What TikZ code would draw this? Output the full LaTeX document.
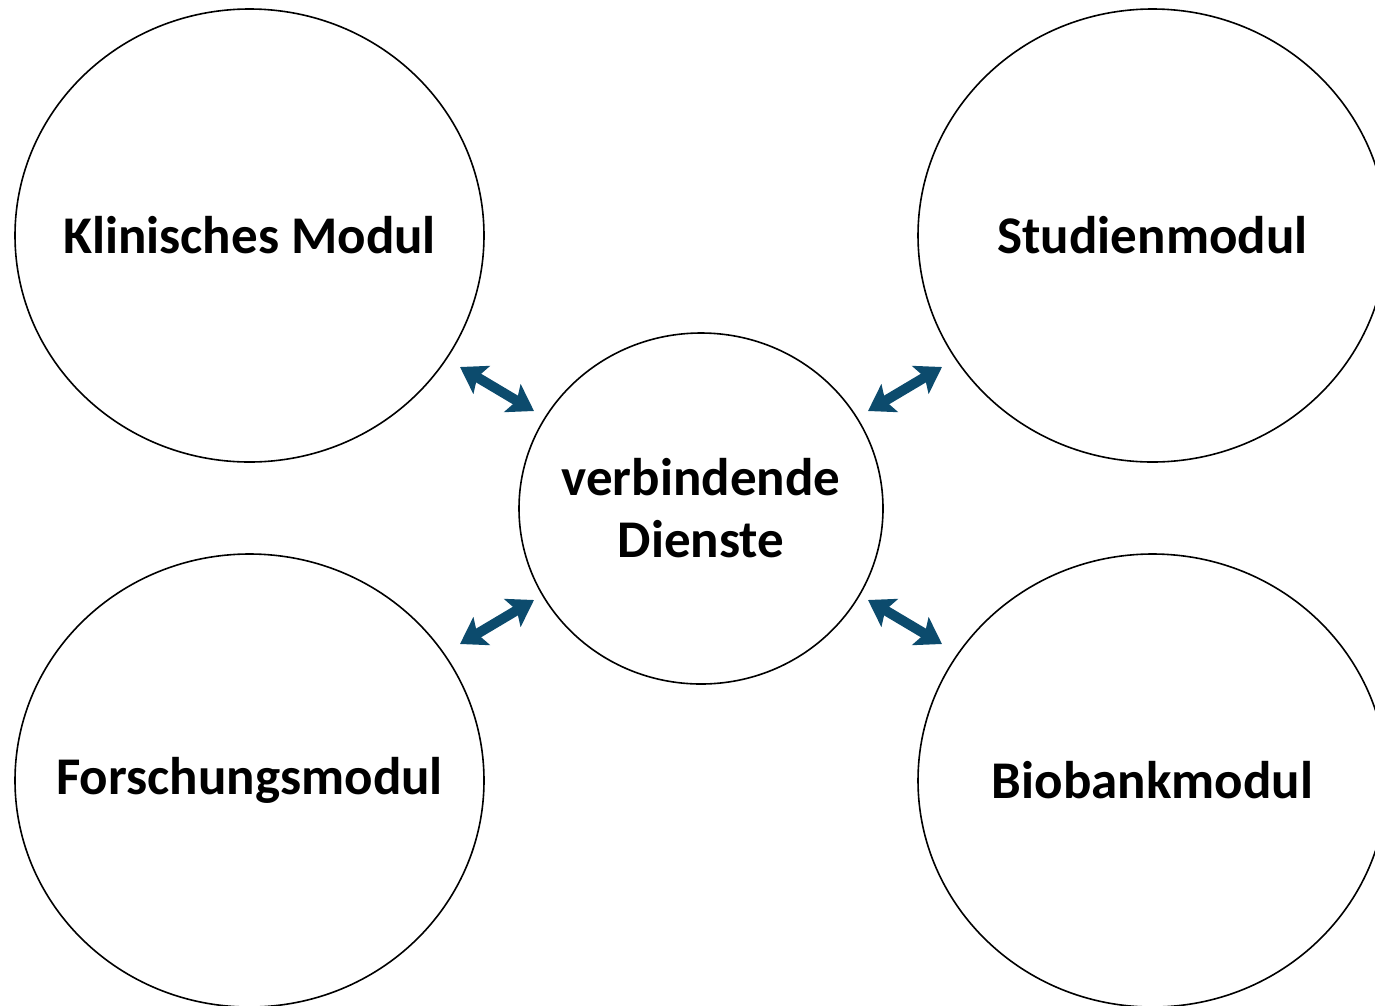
\documentclass[tikz,border=0pt]{standalone}
\usepackage{fontspec}
\setmainfont{Carlito}
\usetikzlibrary{shapes.geometric,arrows.meta}
\definecolor{arrblue}{HTML}{0C4B6D}
\tikzset{
  modul/.style={ellipse,draw=black,line width=1.6pt,minimum width=469pt,minimum height=453pt,inner sep=0pt},
  center/.style={ellipse,draw=black,line width=1.6pt,minimum width=364pt,minimum height=351pt,inner sep=0pt},
  txt/.style={inner sep=0pt,font=\fontsize{53}{62}\selectfont\bfseries,align=center},
  link/.style={draw=arrblue,line width=10pt,{Stealth[length=25pt,width=32pt,inset=5pt]}-{Stealth[length=25pt,width=32pt,inset=5pt]}}
}
\begin{document}
\begin{tikzpicture}[x=1pt,y=1pt]
\useasboundingbox (0,0) rectangle (1375,-1005);
\clip (0,0) rectangle (1375,-1005);
\node[modul] (KM) at (249.5,-235.5) {};
\node[modul] (SM) at (1152.5,-235.5) {};
\node[modul] (FM) at (249.5,-780.5) {};
\node[modul] (BM) at (1152.5,-780.5) {};
\node[center] (C) at (701,-508.5) {};
\node[txt] (KMt) at (KM) {Klinisches Modul};
\node[txt] (SMt) at (SM) {Studienmodul};
\node[txt] (FMt) at (FM) {Forschungsmodul};
\node[txt] (BMt) at (BM) {Biobankmodul};
\node[txt] (Ct) at (C) {verbindende\\Dienste};
\coordinate (a1) at (460,-367); \coordinate (b1) at (534,-411);
\coordinate (a2) at (942,-367); \coordinate (b2) at (868,-411);
\coordinate (a3) at (460,-644); \coordinate (b3) at (534,-600);
\coordinate (a4) at (942,-644); \coordinate (b4) at (868,-600);
\draw[link] (a1) -- (b1);
\draw[link] (a2) -- (b2);
\draw[link] (a3) -- (b3);
\draw[link] (a4) -- (b4);
\end{tikzpicture}
\end{document}
